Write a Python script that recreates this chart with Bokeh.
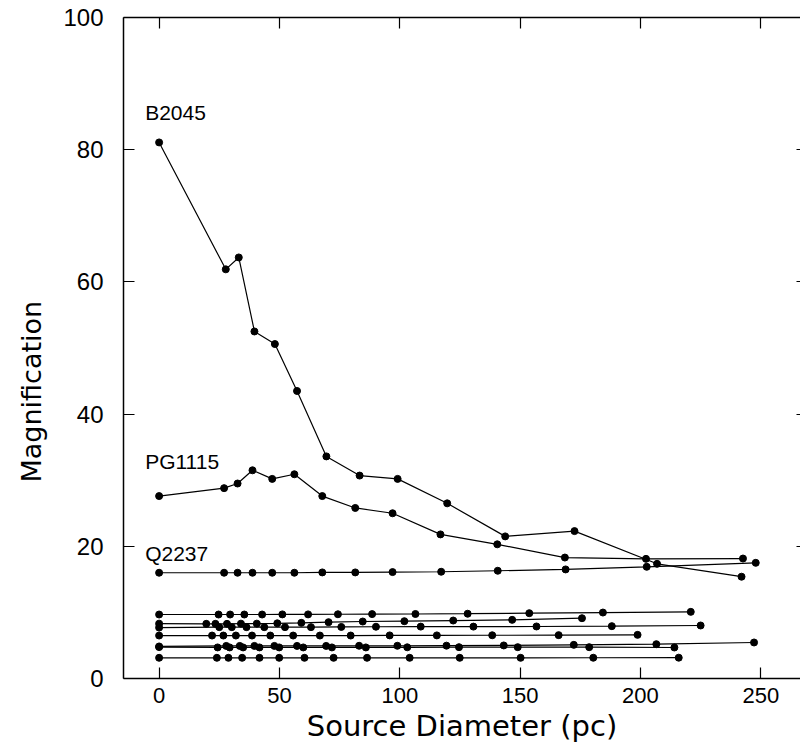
import math
from bokeh.plotting import figure
from bokeh.models import Range1d, LinearAxis, FixedTicker, Title
from bokeh.embed import file_html
from bokeh.resources import INLINE
from bokeh.core.properties import value

# ---- data ----
x_ticks = [0, 50, 100, 150, 200, 250]
y_ticks = [0, 20, 40, 60, 80, 100]

b2045_x = [0, 27.7, 33.1, 39.6, 48.1, 57.3, 69.5, 83.3, 99.1, 119.7, 143.8, 172.6, 206.9, 242.0]
b2045_y = [81.1, 61.9, 63.7, 52.5, 50.6, 43.5, 33.6, 30.7, 30.2, 26.5, 21.5, 22.3, 17.35, 15.4]

pg1115_x = [0, 27.0, 32.6, 38.8, 47.0, 56.2, 67.8, 81.5, 97.0, 116.9, 140.5, 168.6, 202.3, 242.6]
pg1115_y = [27.6, 28.8, 29.5, 31.5, 30.2, 30.9, 27.6, 25.8, 25.0, 21.8, 20.3, 18.3, 18.1, 18.15]

q2237_x = [0, 27.0, 32.6, 38.8, 47.0, 56.2, 67.8, 81.5, 97.0, 117.2, 140.7, 168.9, 202.6, 247.9]
q2237_y = [16.0, 16.0, 16.0, 16.0, 16.0, 16.0, 16.05, 16.05, 16.1, 16.15, 16.3, 16.5, 16.9, 17.5]

lowA_x = [0, 24.7, 29.5, 35.4, 42.8, 51.2, 61.9, 74.3, 88.5, 106.5, 128.2, 153.8, 184.4, 220.9]
lowA_y = [9.68, 9.68, 9.68, 9.68, 9.68, 9.7, 9.7, 9.72, 9.74, 9.76, 9.8, 9.88, 9.98, 10.08]

lowB_x = [0, 19.6, 23.4, 28.2, 34.0, 40.6, 49.1, 59.1, 70.4, 84.6, 101.9, 122.2, 146.7, 175.7]
lowB_y = [8.3, 8.27, 8.27, 8.27, 8.3, 8.3, 8.35, 8.42, 8.52, 8.62, 8.67, 8.77, 8.87, 9.12]

lowC_x = [0, 25.0, 30.2, 36.3, 43.7, 52.3, 63.1, 75.7, 90.1, 108.7, 130.6, 156.8, 188.1, 225.0]
lowC_y = [7.7, 7.77, 7.77, 7.77, 7.77, 7.77, 7.77, 7.8, 7.83, 7.85, 7.85, 7.87, 7.92, 8.02]

lowD_x = [0, 22.0, 26.7, 31.9, 38.6, 46.2, 55.7, 66.8, 79.6, 95.8, 115.4, 138.4, 166.0, 198.8]
lowD_y = [6.5, 6.5, 6.5, 6.5, 6.5, 6.5, 6.5, 6.5, 6.5, 6.52, 6.52, 6.54, 6.56, 6.6]

lowE1_x = [0, 27.9, 33.5, 39.6, 47.9, 57.3, 69.4, 83.1, 99.0, 119.4, 143.2, 172.3, 206.6, 247.2]
lowE1_y = [4.85, 4.93, 4.93, 4.93, 4.93, 4.93, 4.93, 4.95, 4.95, 4.97, 5.0, 5.09, 5.19, 5.45]

lowE2_x = [0, 24.3, 29.3, 34.9, 41.7, 49.9, 59.9, 71.8, 85.9, 103.1, 124.6, 149.0, 178.7, 214.1]
lowE2_y = [4.75, 4.7, 4.7, 4.7, 4.7, 4.7, 4.7, 4.7, 4.7, 4.72, 4.74, 4.74, 4.74, 4.69]

lowF_x = [0, 24.0, 28.8, 34.5, 41.7, 49.9, 60.4, 72.5, 86.4, 104.1, 124.9, 150.2, 180.4, 215.9]
lowF_y = [3.13, 3.13, 3.13, 3.13, 3.13, 3.13, 3.13, 3.13, 3.13, 3.13, 3.13, 3.13, 3.14, 3.15]

label_names = ["B2045", "PG1115", "Q2237"]
label_x = [-5.8, -5.8, -5.8]
label_y = [85.6, 32.8, 18.9]

series = [
    (b2045_x, b2045_y), (pg1115_x, pg1115_y), (q2237_x, q2237_y),
    (lowA_x, lowA_y), (lowB_x, lowB_y), (lowC_x, lowC_y), (lowD_x, lowD_y),
    (lowE1_x, lowE1_y), (lowE2_x, lowE2_y), (lowF_x, lowF_y),
]

# ---- figure ----
p = figure(width=800, height=750, output_backend="svg", toolbar_location=None,
           x_range=Range1d(-14.8, 266.5), y_range=Range1d(0, 100),
           min_border_left=123, min_border_right=0, min_border_top=17,
           min_border_bottom=72)
p.outline_line_color = None
p.grid.visible = False
p.background_fill_color = "white"
p.border_fill_color = "white"

tick_font = "Liberation Sans"

xa = p.xaxis[0]
xa.ticker = FixedTicker(ticks=x_ticks)
xa.major_tick_in = 11
xa.major_tick_out = 0
xa.minor_tick_line_color = None
xa.axis_line_width = 1.5
xa.axis_line_color = "black"
xa.major_tick_line_color = "black"
xa.major_tick_line_width = 1.2
xa.major_label_text_font = tick_font
xa.major_label_text_font_size = "22px"
xa.major_label_text_color = "black"
xa.major_label_standoff = 9
xa.axis_label = "Source Diameter (pc)"
xa.axis_label_text_font = "DejaVu Sans"
xa.axis_label_text_font_size = "29px"
xa.axis_label_text_font_style = "normal"
xa.axis_label_text_color = "black"
xa.axis_label_standoff = 3

ya = p.yaxis[0]
ya.ticker = FixedTicker(ticks=y_ticks)
ya.major_tick_in = 11
ya.major_tick_out = 0
ya.minor_tick_line_color = None
ya.axis_line_width = 1.5
ya.axis_line_color = "black"
ya.major_tick_line_color = "black"
ya.major_tick_line_width = 1.2
ya.major_label_text_font = tick_font
ya.major_label_text_font_size = "24px"
ya.major_label_text_color = "black"
ya.major_label_standoff = 20

top = LinearAxis(ticker=FixedTicker(ticks=x_ticks), major_tick_in=11, major_tick_out=0,
                 minor_tick_line_color=None, major_label_text_font_size="1px",
                 major_label_text_color=None, major_label_standoff=0,
                 axis_line_width=1.5, axis_line_color="black",
                 major_tick_line_color="black", major_tick_line_width=1.2)
p.add_layout(top, "above")

right = LinearAxis(ticker=FixedTicker(ticks=y_ticks), major_tick_in=4, major_tick_out=0,
                   minor_tick_line_color=None, major_label_text_font_size="1px",
                   major_label_text_color=None, major_label_standoff=0,
                   axis_line_color=None,
                   major_tick_line_color="black", major_tick_line_width=1.2)
p.add_layout(right, "right")

for sx, sy in series:
    p.line(sx, sy, line_color="black", line_width=1.2)
    p.scatter(sx, sy, size=7, color="black")

p.text(x=label_x, y=label_y, text=label_names, text_font=value("Liberation Sans"),
       text_font_size="21px", text_align="left", text_baseline="alphabetic",
       text_color="black")

ytitle = Title(text="Magnification", align="left", offset=196, standoff=27,
               text_font="DejaVu Sans", text_font_size="27px",
               text_font_style="normal", text_color="black")
p.add_layout(ytitle, "left")

open("out.html", "w").write(file_html(p, INLINE))
